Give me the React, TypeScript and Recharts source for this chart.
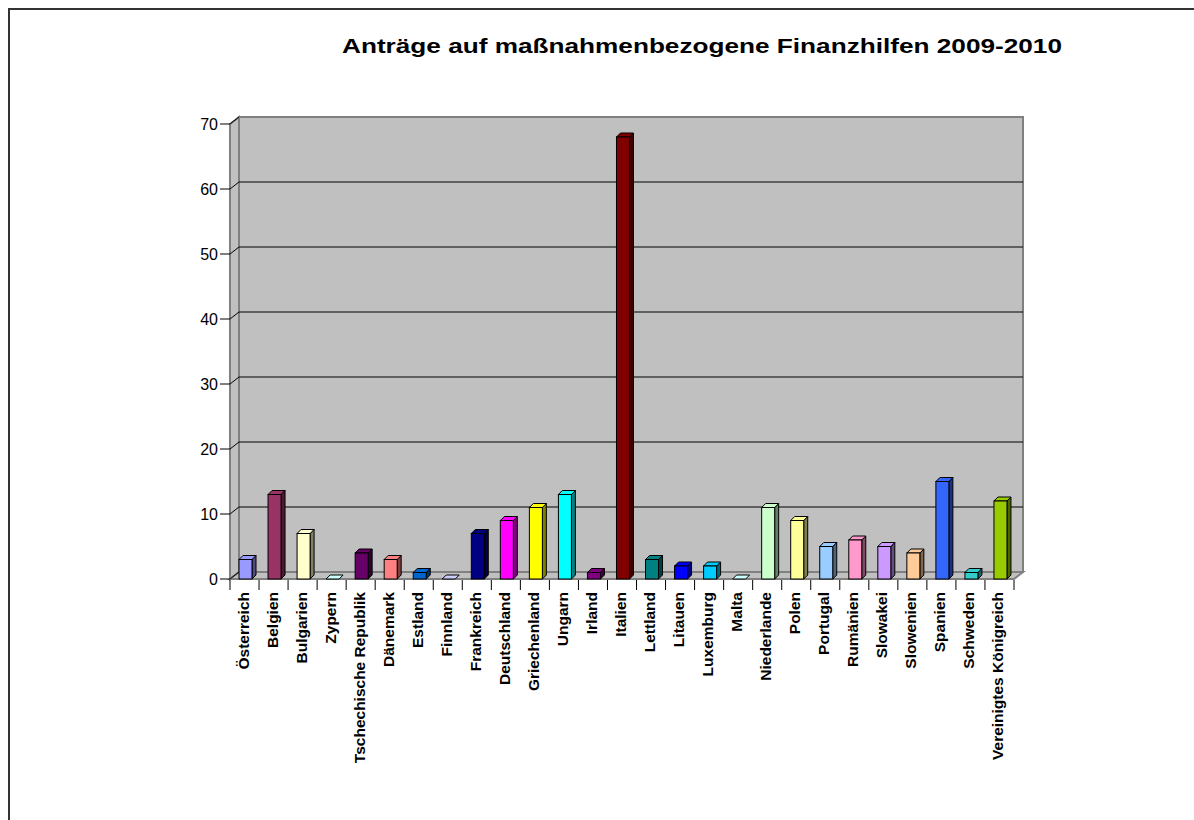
import React from "react";
import { BarChart, Bar, Cell, XAxis, YAxis, ReferenceArea } from "recharts";

const countries = [
  "Österreich", "Belgien", "Bulgarien", "Zypern", "Tschechische Republik", "Dänemark",
  "Estland", "Finnland", "Frankreich", "Deutschland", "Griechenland", "Ungarn", "Irland",
  "Italien", "Lettland", "Litauen", "Luxemburg", "Malta", "Niederlande", "Polen", "Portugal",
  "Rumänien", "Slowakei", "Slowenien", "Spanien", "Schweden", "Vereinigtes Königreich",
];
const applications = [3, 13, 7, 0, 4, 3, 1, 0, 7, 9, 11, 13, 1, 68, 3, 2, 2, 0, 11, 9, 5, 6, 5, 4, 15, 1, 12];
const barColors = [
  "#9999FF", "#993366", "#FFFFCC", "#CCFFFF", "#660066", "#FF8080", "#0066CC", "#CCCCFF",
  "#000080", "#FF00FF", "#FFFF00", "#00FFFF", "#800080", "#800000", "#008080", "#0000FF",
  "#00CCFF", "#CCFFFF", "#CCFFCC", "#FFFF99", "#99CCFF", "#FF99CC", "#CC99FF", "#FFCC99",
  "#3366FF", "#33CCCC", "#99CC00",
];
const yTicks = [0, 10, 20, 30, 40, 50, 60, 70];
const title = "Anträge auf maßnahmenbezogene Finanzhilfen 2009-2010";

const data = countries.map((name, i) => ({ name, value: applications[i] }));

const FONT = "'Liberation Sans', Arial, sans-serif";
const DX = 9; // depth of the walls
const DY = 7;
const DEPTH = 4; // depth of a bar
const CAT_W = 784 / countries.length;

function shade(hex: string, f: number) {
  const n = parseInt(hex.slice(1), 16);
  const r = Math.round(((n >> 16) & 255) * f);
  const g = Math.round(((n >> 8) & 255) * f);
  const b = Math.round((n & 255) * f);
  return `rgb(${r},${g},${b})`;
}

// back wall, left wall, floor and gridlines, fitted to the area of 0..70
const Walls = (props: any) => {
  const { x, y, width, height } = props;
  const bottom = y + height;
  const right = x + width;
  const ys = yTicks.map((v) => y + height * (1 - v / 70));
  return (
    <g>
      <polygon
        points={`${x + DX},${y - DY} ${right + DX},${y - DY} ${right + DX},${bottom - DY} ${x + DX},${bottom - DY}`}
        fill="#C0C0C0"
        stroke="#808080"
        strokeWidth={2}
      />
      <polygon
        points={`${x},${y} ${x + DX},${y - DY} ${x + DX},${bottom - DY} ${x},${bottom}`}
        fill="#C0C0C0"
        stroke="#808080"
        strokeWidth={2}
      />
      <polygon
        points={`${x},${bottom} ${x + DX},${bottom - DY} ${right + DX},${bottom - DY} ${right},${bottom}`}
        fill="#C0C0C0"
        stroke="#808080"
        strokeWidth={2}
      />
      {ys.map((ly, i) => (
        <g key={i}>
          {yTicks[i] > 0 && yTicks[i] < 70 && (
            <line x1={x + DX} y1={ly - DY} x2={right + DX} y2={ly - DY} stroke="#000" strokeWidth={1} />
          )}
          <line x1={x} y1={ly} x2={x + DX} y2={ly - DY} stroke="#000" strokeWidth={1} />
        </g>
      ))}
    </g>
  );
};

const Bar3D = (props: any) => {
  const { x, y, width, height, fill } = props;
  const fx = x + 1;
  const h = Math.max(0, height || 0);
  const bottom = y + h;
  const side = shade(fill, 0.5);
  return (
    <g>
      {h > 0 && (
        <path
          d={`M${fx + width},${bottom} L${fx + width + DEPTH},${bottom - DEPTH} L${fx + width + DEPTH},${y - DEPTH} L${fx + width},${y} Z`}
          fill={side}
          stroke="#000"
          strokeWidth={1}
        />
      )}
      <path
        d={`M${fx},${y} L${fx + DEPTH},${y - DEPTH} L${fx + width + DEPTH},${y - DEPTH} L${fx + width},${y} Z`}
        fill={fill}
        stroke="#000"
        strokeWidth={1}
      />
      {h > 0 && <rect x={fx} y={y} width={width} height={h} fill={fill} stroke="#000" strokeWidth={1} />}
    </g>
  );
};

const CountryTick = (props: any) => {
  const { x, y, payload, index } = props;
  const left = x - CAT_W / 2;
  return (
    <g>
      <line x1={left} y1={y + 1} x2={left} y2={y + 11} stroke="#000" />
      {index === countries.length - 1 && (
        <line x1={x + CAT_W / 2} y1={y + 1} x2={x + CAT_W / 2} y2={y + 11} stroke="#000" />
      )}
      <text
        transform={`translate(${x + 4},${y + 13}) rotate(-90)`}
        textAnchor="end"
        fontFamily={FONT}
        fontWeight="bold"
        fontSize={15.5}
        fill="#000"
      >
        {payload.value}
      </text>
    </g>
  );
};

export default function App() {
  return (
    <div
      style={{
        position: "absolute",
        left: 8,
        top: 8,
        width: 1184,
        height: 810,
        overflow: "hidden",
        borderTop: "2px solid #333",
        borderLeft: "2px solid #333",
        background: "#fff",
      }}
    >
      <svg width={1168} height={60} style={{ position: "absolute", left: 0, top: 0 }}>
        <text
          x={692}
          y={43}
          textAnchor="middle"
          fontFamily={FONT}
          fontWeight="bold"
          fontSize={21}
          textLength={720}
          lengthAdjust="spacingAndGlyphs"
          fill="#000"
        >
          {title}
        </text>
      </svg>
      <BarChart
        width={1168}
        height={790}
        data={data}
        margin={{ top: 114, right: 164, bottom: 21, left: 160 }}
        barCategoryGap="0%"
      >
        <ReferenceArea y1={0} y2={70} shape={Walls} ifOverflow="visible" />
        <XAxis
          dataKey="name"
          interval={0}
          height={200}
          tickSize={0}
          tickMargin={0}
          axisLine={false}
          tickLine={false}
          tick={<CountryTick />}
        />
        <YAxis
          domain={[0, 70]}
          ticks={yTicks}
          width={60}
          axisLine={false}
          tickSize={10}
          tickLine={{ stroke: "#000" }}
          tick={{ fontFamily: FONT, fontSize: 16, fill: "#000" }}
        />
        <Bar dataKey="value" barSize={13} isAnimationActive={false} shape={Bar3D}>
          {data.map((d, i) => (
            <Cell key={d.name} fill={barColors[i]} />
          ))}
        </Bar>
      </BarChart>
    </div>
  );
}
